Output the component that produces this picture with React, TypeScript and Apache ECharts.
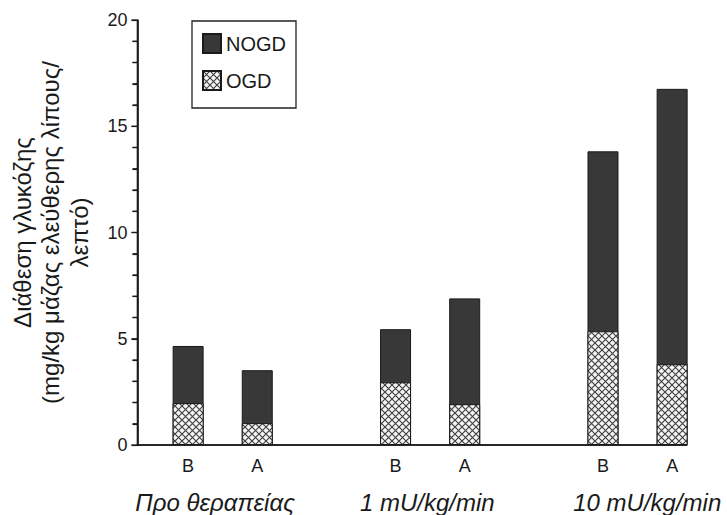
import React, { useEffect, useRef } from "react";
import * as echarts from "echarts";

// ---- data ----
const groups = ["Προ θεραπείας", "1 mU/kg/min", "10 mU/kg/min"];
const phases = ["B", "A"];
// one value per bar, order: group1 B, group1 A, group2 B, group2 A, group3 B, group3 A
const ogdValues = [1.97, 1.03, 2.95, 1.92, 5.35, 3.8];
// total glucose disposal (OGD + NOGD), i.e. top of each dark bar
const totalValues = [4.66, 3.52, 5.45, 6.9, 13.82, 16.76];
const yTicks = { min: 0, max: 20, step: 5, minorStep: 1 };
const yTitle = "Διάθεση γλυκόζης\n(mg/kg μάζας ελεύθερης λίπους/\nλεπτό)";

// slot layout: each group takes 2 bar slots followed by one empty slot;
// the x axis starts a little before the first slot
const LEAD = 0.732;
const X_MAX = 7.947;
const slotOf = (i: number) => LEAD + Math.floor(i / 2) * 3 + (i % 2);
const groupLabelPos = [LEAD + 0.39, LEAD + 3.46, LEAD + 6.64];

function makeHatch(): HTMLCanvasElement {
  const c = document.createElement("canvas");
  const s = 7;
  c.width = s;
  c.height = s;
  const ctx = c.getContext("2d")!;
  ctx.fillStyle = "#f5f5f5";
  ctx.fillRect(0, 0, s, s);
  ctx.strokeStyle = "#404040";
  ctx.lineWidth = 1.15;
  ctx.beginPath();
  ctx.moveTo(0, 0);
  ctx.lineTo(s, s);
  ctx.moveTo(s, 0);
  ctx.lineTo(0, s);
  ctx.stroke();
  return c;
}

export default function App() {
  const ref = useRef<HTMLDivElement>(null);
  useEffect(() => {
    if (!ref.current) return;
    const chart = echarts.init(ref.current, null, { renderer: "svg" });
    const hatch = { image: makeHatch(), repeat: "repeat" as const };

    const labelMap = new Map<number, string>();
    ogdValues.forEach((_, i) => labelMap.set(slotOf(i), "{p|" + phases[i % 2] + "}"));
    groups.forEach((g, gi) => labelMap.set(groupLabelPos[gi], "{g|" + g + "}"));
    const customVals = [...ogdValues.map((_, i) => slotOf(i)), ...groupLabelPos];

    const textFont = "'Liberation Sans', Arial, Helvetica, sans-serif";
    const ink = "#1a1a1a";

    chart.setOption({
      animation: false,
      backgroundColor: "#ffffff",
      textStyle: { fontFamily: textFont, color: ink },
      grid: { left: 133, right: 40, top: 20, bottom: 70 },
      legend: {
        data: ["NOGD", "OGD"],
        orient: "vertical",
        left: 192,
        top: 21,
        itemWidth: 18,
        itemHeight: 19,
        itemGap: 16,
        padding: [12, 10, 17, 10],
        borderColor: "#222",
        borderWidth: 1.3,
        icon: "rect",
        textStyle: { fontSize: 20, color: ink, fontFamily: textFont },
      },
      xAxis: {
        type: "value",
        min: 0,
        max: X_MAX,
        splitLine: { show: false },
        axisTick: { show: false },
        axisLine: { show: true, lineStyle: { color: ink, width: 1.6 } },
        axisLabel: {
          customValues: customVals,
          margin: 12,
          color: ink,
          formatter: (v: number) => labelMap.get(v) ?? "",
          rich: {
            p: { fontSize: 18, color: ink, fontFamily: textFont },
            g: {
              fontSize: 24,
              fontStyle: "italic",
              color: ink,
              fontFamily: textFont,
              padding: [33, 0, 0, 0],
            },
          },
        },
      },
      yAxis: {
        type: "value",
        min: yTicks.min,
        max: yTicks.max,
        interval: yTicks.step,
        splitLine: { show: false },
        axisLine: { show: true, lineStyle: { color: ink, width: 1.6 } },
        axisTick: { show: true, length: 6, lineStyle: { color: ink, width: 1.2 } },
        minorTick: { show: true, splitNumber: 5, length: 5, lineStyle: { color: ink, width: 1.2 } },
        axisLabel: { fontSize: 18, color: ink, margin: 10, fontFamily: textFont },
        name: yTitle,
        nameLocation: "middle",
        nameGap: 44,
        nameTextStyle: {
          fontSize: 24,
          lineHeight: 28.5,
          color: ink,
          fontFamily: textFont,
        },
      },
      series: [
        {
          name: "NOGD",
          type: "bar",
          barWidth: 31,
          barGap: "-100%",
          itemStyle: { color: "#383838", borderColor: ink, borderWidth: 1 },
          data: totalValues.map((v, i) => [slotOf(i), v]),
        },
        {
          name: "OGD",
          type: "bar",
          barWidth: 31,
          barGap: "-100%",
          itemStyle: { color: hatch, borderColor: ink, borderWidth: 1 },
          data: ogdValues.map((v, i) => [slotOf(i), v]),
        },
      ],
    });

    // axis lines and ticks as thin filled rects, positioned through the series' coordinate system
    const toPx = (x: number, y: number): number[] | null => {
      const p = chart.convertToPixel({ seriesIndex: 0 }, [x, y]) as any;
      return Array.isArray(p) && isFinite(p[0]) && isFinite(p[1]) ? p : null;
    };
    const origin = toPx(0, yTicks.min);
    const corner = toPx(X_MAX, yTicks.max);
    if (origin && corner) {
      const axisW = 1.6;
      const tickW = 1.3;
      const elements: any[] = [
        {
          type: "rect",
          shape: { x: origin[0] - axisW / 2, y: origin[1] - axisW / 2, width: corner[0] - origin[0] + axisW / 2, height: axisW },
          style: { fill: ink },
          z: 100,
        },
        {
          type: "rect",
          shape: { x: origin[0] - axisW / 2, y: corner[1], width: axisW, height: origin[1] - corner[1] + axisW / 2 },
          style: { fill: ink },
          z: 100,
        },
      ];
      for (let v = yTicks.min; v <= yTicks.max; v += yTicks.minorStep) {
        const p = toPx(0, v);
        if (!p) continue;
        const len = v % yTicks.step === 0 ? 6 : 5;
        elements.push({
          type: "rect",
          shape: { x: origin[0] - len, y: p[1] - tickW / 2, width: len, height: tickW },
          style: { fill: ink },
          z: 100,
        });
      }
      chart.setOption({ graphic: elements });
    }

    return () => chart.dispose();
  }, []);
  return (
    <div
      ref={ref}
      style={{ position: "fixed", left: 0, top: 0, width: 727, height: 515 }}
    />
  );
}
